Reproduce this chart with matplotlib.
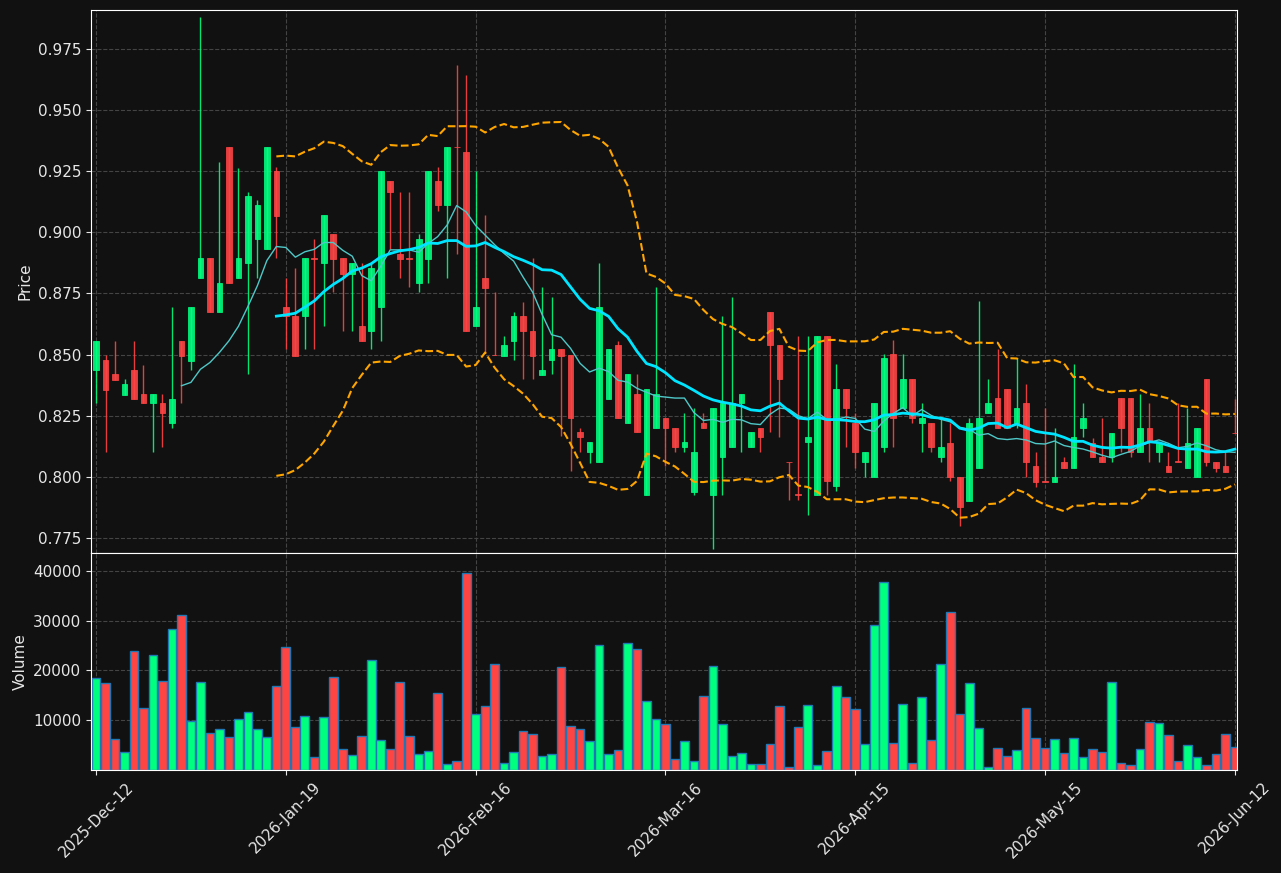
import numpy as np
import pandas as pd
import matplotlib
matplotlib.use("Agg")
import matplotlib.pyplot as plt

# ---- data (one entry per trading bar) ----
tick_pos = [0, 20, 40, 60, 80, 100, 120]
tick_labels = ["2025-Dec-12", "2026-Jan-19", "2026-Feb-16", "2026-Mar-16",
               "2026-Apr-15", "2026-May-15", "2026-Jun-12"]

opens = [0.8435, 0.8478, 0.8421, 0.8336, 0.8438, 0.8340, 0.8300, 0.8303, 0.8218, 0.8556,
         0.8475, 0.8812, 0.8894, 0.8673, 0.9351, 0.8812, 0.8873, 0.8971, 0.8930, 0.9253,
         0.8695, 0.8659, 0.8656, 0.8894, 0.8873, 0.8993, 0.8894, 0.8830, 0.8617, 0.8596,
         0.8695, 0.9210, 0.8911, 0.8894, 0.8791, 0.8893, 0.9210, 0.9110, 0.9351, 0.9329,
         0.8617, 0.8815, 0.8500, 0.8495, 0.8556, 0.8659, 0.8596, 0.8418, 0.8478, 0.8521,
         0.8499, 0.8184, 0.8101, 0.8059, 0.8317, 0.8539, 0.8218, 0.8340, 0.7924, 0.8198,
         0.8241, 0.8201, 0.8120, 0.7938, 0.8222, 0.7924, 0.8080, 0.8120, 0.8300, 0.8120,
         0.8201, 0.8676, 0.8539, 0.8062, 0.7931, 0.8141, 0.7926, 0.8577, 0.7962, 0.8360,
         0.8222, 0.8062, 0.7999, 0.8120, 0.8502, 0.8282, 0.8400, 0.8218, 0.8222, 0.8080,
         0.8140, 0.8000, 0.7899, 0.8037, 0.8261, 0.8322, 0.8360, 0.8218, 0.8303, 0.8042,
         0.7982, 0.7978, 0.8062, 0.8037, 0.8198, 0.8140, 0.8080, 0.8080, 0.8322, 0.8322,
         0.8101, 0.8201, 0.8101, 0.8042, 0.8063, 0.8037, 0.7999, 0.8400, 0.8062, 0.8042,
         0.8181]
highs = [0.8556, 0.8499, 0.8556, 0.8400, 0.8556, 0.8457, 0.8340, 0.8339, 0.8694, 0.8556,
         0.8694, 0.9881, 0.8894, 0.9287, 0.9351, 0.9265, 0.9167, 0.9132, 0.9351, 0.9267,
         0.8815, 0.8855, 0.8894, 0.8971, 0.9071, 0.8993, 0.8894, 0.8873, 0.8873, 0.8873,
         0.9253, 0.9210, 0.9167, 0.9167, 0.8993, 0.9253, 0.9267, 0.9351, 0.9686, 0.9643,
         0.9253, 0.9071, 0.8758, 0.8577, 0.8676, 0.8715, 0.8894, 0.8776, 0.8737, 0.8521,
         0.8499, 0.8201, 0.8144, 0.8876, 0.8521, 0.8556, 0.8421, 0.8421, 0.8360, 0.8776,
         0.8241, 0.8201, 0.8261, 0.8282, 0.8261, 0.8282, 0.8656, 0.8737, 0.8340, 0.8184,
         0.8201, 0.8676, 0.8539, 0.8062, 0.8577, 0.8577, 0.8577, 0.8577, 0.8460, 0.8360,
         0.8261, 0.8101, 0.8303, 0.8502, 0.8559, 0.8502, 0.8400, 0.8300, 0.8222, 0.8241,
         0.8222, 0.8000, 0.8241, 0.8720, 0.8400, 0.8521, 0.8360, 0.8485, 0.8378, 0.8101,
         0.8282, 0.8201, 0.8080, 0.8460, 0.8300, 0.8158, 0.8241, 0.8180, 0.8322, 0.8322,
         0.8339, 0.8303, 0.8140, 0.8101, 0.8300, 0.8282, 0.8201, 0.8400, 0.8062, 0.8101,
         0.8317]
lows = [0.8300, 0.8101, 0.8397, 0.8336, 0.8317, 0.8300, 0.8101, 0.8123, 0.8201, 0.8303,
        0.8435, 0.8812, 0.8673, 0.8673, 0.8791, 0.8812, 0.8421, 0.8812, 0.8930, 0.8894,
        0.8521, 0.8496, 0.8521, 0.8521, 0.8617, 0.8755, 0.8596, 0.8596, 0.8556, 0.8521,
        0.8556, 0.8931, 0.8815, 0.8776, 0.8755, 0.8791, 0.9089, 0.8812, 0.8911, 0.8596,
        0.8617, 0.8506, 0.8499, 0.8495, 0.8478, 0.8400, 0.8400, 0.8418, 0.8421, 0.8165,
        0.8023, 0.8101, 0.8056, 0.8059, 0.8317, 0.8239, 0.8218, 0.8182, 0.7924, 0.8198,
        0.8045, 0.8101, 0.8101, 0.7926, 0.8198, 0.7706, 0.7926, 0.8120, 0.8101, 0.8120,
        0.8101, 0.8184, 0.8161, 0.7905, 0.7905, 0.7845, 0.7926, 0.7926, 0.7941, 0.8123,
        0.8037, 0.7999, 0.7999, 0.8101, 0.8123, 0.8282, 0.8222, 0.8101, 0.8101, 0.8062,
        0.7981, 0.7799, 0.7899, 0.8037, 0.8261, 0.8198, 0.8198, 0.8201, 0.8000, 0.7959,
        0.7978, 0.7978, 0.8037, 0.8037, 0.8161, 0.8080, 0.8062, 0.8062, 0.8101, 0.8080,
        0.8101, 0.8062, 0.8062, 0.8019, 0.8060, 0.8037, 0.7999, 0.8042, 0.8019, 0.8019,
        0.8178]
closes = [0.8556, 0.8357, 0.8397, 0.8381, 0.8317, 0.8300, 0.8340, 0.8261, 0.8320, 0.8495,
          0.8694, 0.8894, 0.8673, 0.8793, 0.8791, 0.8894, 0.9150, 0.9113, 0.9351, 0.9068,
          0.8656, 0.8496, 0.8894, 0.8893, 0.9071, 0.8893, 0.8830, 0.8873, 0.8556, 0.8855,
          0.9253, 0.9167, 0.8893, 0.8893, 0.8973, 0.9253, 0.9110, 0.9351, 0.9350, 0.8596,
          0.8695, 0.8774, 0.8499, 0.8539, 0.8659, 0.8596, 0.8495, 0.8438, 0.8521, 0.8495,
          0.8239, 0.8161, 0.8144, 0.8695, 0.8521, 0.8239, 0.8421, 0.8182, 0.8360, 0.8340,
          0.8198, 0.8120, 0.8144, 0.8101, 0.8198, 0.8282, 0.8303, 0.8303, 0.8340, 0.8184,
          0.8161, 0.8538, 0.8400, 0.8059, 0.7927, 0.8162, 0.8577, 0.7981, 0.8360, 0.8282,
          0.8101, 0.8101, 0.8303, 0.8485, 0.8239, 0.8400, 0.8239, 0.8241, 0.8120, 0.8123,
          0.7998, 0.7878, 0.8222, 0.8241, 0.8303, 0.8198, 0.8198, 0.8282, 0.8062, 0.7978,
          0.7978, 0.8000, 0.8037, 0.8161, 0.8241, 0.8080, 0.8062, 0.8180, 0.8198, 0.8101,
          0.8201, 0.8144, 0.8140, 0.8019, 0.8060, 0.8140, 0.8201, 0.8062, 0.8037, 0.8019,
          0.8178]
volumes = [18500, 17400, 6200, 3600, 23900, 12400, 23000, 17800, 28400, 31200,
           9900, 17600, 7500, 8200, 6600, 10200, 11600, 8200, 6600, 16800,
           24600, 8600, 10800, 2600, 10600, 18600, 4200, 3000, 6800, 22000,
           6000, 4200, 17600, 6800, 3200, 3800, 15400, 1200, 1800, 39600,
           11200, 12800, 21200, 1500, 3600, 7800, 7200, 2800, 3200, 20600,
           8800, 8200, 5800, 25000, 3200, 4000, 25400, 24200, 13800, 10200,
           9200, 2200, 5800, 1900, 14800, 20800, 9200, 2800, 3400, 1200,
           1200, 5200, 12800, 600, 8600, 13000, 1000, 3800, 16800, 14600,
           12200, 5200, 29200, 37800, 5400, 13200, 1400, 14600, 6000, 21200,
           31800, 11200, 17400, 8400, 600, 4400, 2800, 4000, 12400, 6400,
           4400, 6200, 3400, 6400, 2600, 4200, 3600, 17600, 1400, 1000,
           4200, 9600, 9400, 7000, 1800, 5000, 2600, 1000, 3200, 7200,
           4600]

bg = "#111111"
up_col = "#00ff7f"
down_col = "#ff4444"
txt = "#e6e6e6"

x = np.arange(len(closes))
o = np.array(opens)
h = np.array(highs)
l = np.array(lows)
c = np.array(closes)
up = c >= o
cols = np.where(up, up_col, down_col)

# indicators from the closes
cs = pd.Series(closes)
sma10 = cs.rolling(10).mean()
mid = cs.rolling(20).mean()
sd = cs.rolling(20).std(ddof=0)
upper = mid + 2 * sd
lower = mid - 2 * sd

fig = plt.figure(figsize=(12.81, 8.73), dpi=100, facecolor=bg)
W, H = 1281, 873
ax1 = fig.add_axes([91 / W, 1 - 553 / H, (1237 - 91) / W, (553 - 10) / H])
ax2 = fig.add_axes([91 / W, 1 - 770 / H, (1237 - 91) / W, (770 - 553) / H], sharex=ax1)

for ax in (ax1, ax2):
    ax.set_facecolor(bg)
    ax.grid(True, color="#444444", linestyle="--", linewidth=0.8)
    ax.set_axisbelow(True)
    for s in ax.spines.values():
        s.set_color("white")
    ax.tick_params(colors=txt, labelsize=11)

# candles
ax1.vlines(x, l, h, colors=cols, linewidth=1, alpha=0.9)
ax1.bar(x, c - o, bottom=o, width=0.6, color=cols, edgecolor=cols,
        linewidth=0.6, alpha=0.9)

ax1.plot(x, upper, color="orange", linestyle="--", linewidth=1.5)
ax1.plot(x, lower, color="orange", linestyle="--", linewidth=1.5)
ax1.plot(x, sma10, color="#4fc8c8", linewidth=1)
ax1.plot(x, mid, color="#00e5ff", linewidth=2)

ax1.set_ylim(0.7688, 0.991)
ax1.set_yticks(np.arange(0.775, 0.976, 0.025))
ax1.yaxis.set_major_formatter(plt.FormatStrFormatter("%.3f"))
ax1.set_ylabel("Price", color=txt, fontsize=11)
ax1.tick_params(axis="x", labelbottom=False, length=0)

# volume
ax2.bar(x, volumes, width=0.92, color=cols, edgecolor="#1f77b4", linewidth=1)
ax2.set_ylim(0, max(volumes) * 1.1)
ax2.set_yticks([10000, 20000, 30000, 40000])
ax2.set_ylabel("Volume", color=txt, fontsize=11)
ax2.set_xlim(-0.53, 120.22)
ax2.set_xticks(tick_pos)
ax2.set_xticklabels(tick_labels, rotation=45)

fig.savefig("out.png", dpi=100, facecolor=bg)
